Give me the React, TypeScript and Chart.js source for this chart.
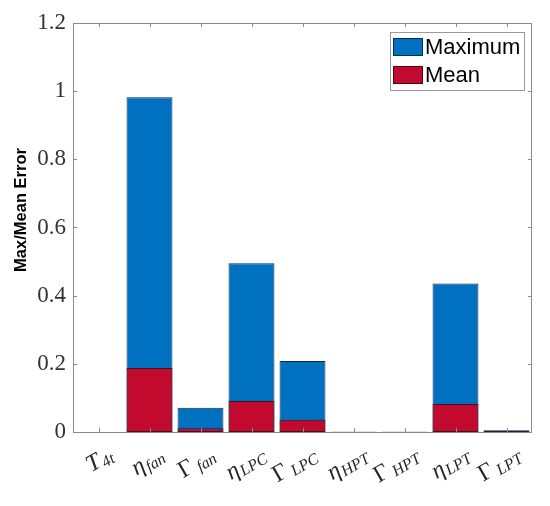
import React, { useEffect, useRef } from "react";
import { Chart, registerables } from "chart.js";

Chart.register(...registerables);

const categoryBase = ["T", "η", "Γ", "η", "Γ", "η", "Γ", "η", "Γ"];
const categorySub = ["4t", "fan", "fan", "LPC", "LPC", "HPT", "HPT", "LPT", "LPT"];
const categoryIds = ["T4t", "eta_fan", "Gamma_fan", "eta_LPC", "Gamma_LPC", "eta_HPT", "Gamma_HPT", "eta_LPT", "Gamma_LPT"];
const maxValues = [0, 0.982, 0.071, 0.495, 0.208, 0.001, 0.001, 0.436, 0.005];
const meanValues = [0, 0.188, 0.011, 0.091, 0.036, 0.0005, 0.0005, 0.082, 0.002];
const seriesNames = ["Maximum", "Mean"];
const seriesColors = ["#0070C0", "#C20A2F"];
const yMin = 0;
const yMax = 1.2;
const yStep = 0.2;

const framePlugin = {
  id: "framePlugin",
  afterDatasetsDraw(chart: any) {
    const { ctx, chartArea: a, scales } = chart;
    const xs = scales.x;
    const ys = scales.y;
    ctx.save();
    ctx.strokeStyle = "#8a8a8a";
    ctx.lineWidth = 1;
    ctx.strokeRect(a.left + 0.5, a.top + 0.5, a.right - a.left - 1, a.bottom - a.top);
    ctx.beginPath();
    const tl = 4;
    for (let i = 0; i < categoryIds.length; i++) {
      const x = Math.round(xs.getPixelForValue(i)) + 0.5;
      ctx.moveTo(x, a.bottom);
      ctx.lineTo(x, a.bottom - tl);
      ctx.moveTo(x, a.top);
      ctx.lineTo(x, a.top + tl);
    }
    for (let v = yMin; v <= yMax + 1e-9; v += yStep) {
      const y = Math.round(ys.getPixelForValue(v)) + 0.5;
      ctx.moveTo(a.left, y);
      ctx.lineTo(a.left + tl, y);
      ctx.moveTo(a.right, y);
      ctx.lineTo(a.right - tl, y);
    }
    ctx.stroke();
    ctx.restore();
  },
  afterDraw(chart: any) {
    const { ctx, chartArea: a, scales } = chart;
    const xs = scales.x;
    ctx.save();
    // x labels
    ctx.fillStyle = "#262626";
    ctx.textBaseline = "alphabetic";
    ctx.textAlign = "left";
    const baseFont = "italic 24px 'Liberation Serif'";
    const gammaFont = "24px 'Liberation Serif'";
    const subFont = "italic 16px 'Liberation Serif'";
    for (let i = 0; i < categoryIds.length; i++) {
      const x = xs.getPixelForValue(i) + 16;
      const y = a.bottom + 27;
      const bf = categoryBase[i] === "Γ" ? gammaFont : baseFont;
      ctx.font = bf;
      const bw = ctx.measureText(categoryBase[i]).width;
      ctx.font = subFont;
      const sw = ctx.measureText(categorySub[i]).width;
      const gap = categoryBase[i] === "Γ" ? 4 : 1;
      const total = bw + gap + sw;
      ctx.save();
      ctx.translate(x, y);
      ctx.rotate(-Math.PI / 6);
      ctx.font = bf;
      ctx.fillText(categoryBase[i], -total, 0);
      ctx.font = subFont;
      ctx.fillText(categorySub[i], -total + bw + gap, 3);
      ctx.restore();
    }
    // y title
    ctx.save();
    ctx.translate(21, 210);
    ctx.rotate(-Math.PI / 2);
    ctx.font = "bold 16.5px 'Liberation Sans'";
    ctx.fillStyle = "#000";
    ctx.textAlign = "center";
    ctx.textBaseline = "middle";
    ctx.fillText("Max/Mean Error", 0, 0);
    ctx.restore();
    // legend
    const lx = 390, ly = 32, lw = 134, lh = 58;
    ctx.fillStyle = "#fff";
    ctx.fillRect(lx, ly, lw, lh);
    ctx.strokeStyle = "#9a9a9a";
    ctx.lineWidth = 1;
    ctx.strokeRect(lx + 0.5, ly + 0.5, lw, lh);
    const ds = chart.data.datasets;
    ctx.font = "22px 'Liberation Sans'";
    ctx.textAlign = "left";
    ctx.textBaseline = "middle";
    for (let k = 0; k < ds.length; k++) {
      const sy = ly + 6 + k * 28;
      ctx.fillStyle = ds[k].backgroundColor;
      ctx.fillRect(lx + 3, sy, 30, 18);
      ctx.strokeStyle = "rgba(0,0,0,0.6)";
      ctx.strokeRect(lx + 3.5, sy + 0.5, 29, 17);
      ctx.fillStyle = "#000";
      ctx.fillText(ds[k].label, lx + 35, sy + 10);
    }
    ctx.restore();
  },
};

export default function App() {
  const ref = useRef<HTMLCanvasElement | null>(null);
  useEffect(() => {
    if (!ref.current) return;
    const chart = new Chart(ref.current, {
      type: "bar",
      data: {
        labels: categoryIds,
        datasets: [
          {
            label: seriesNames[0],
            data: maxValues,
            backgroundColor: seriesColors[0],
            borderColor: "#0d2a4a",
            borderWidth: 1,
            borderSkipped: false,
            order: 1,
            categoryPercentage: 0.9,
            barPercentage: 1,
          },
          {
            label: seriesNames[1],
            data: meanValues,
            backgroundColor: seriesColors[1],
            borderColor: "#4a0d1c",
            borderWidth: 1,
            borderSkipped: false,
            order: 0,
            categoryPercentage: 0.9,
            barPercentage: 1,
          },
        ],
      },
      options: {
        animation: false,
        responsive: false,
        maintainAspectRatio: false,
        layout: { padding: { left: 8, top: 23, right: 18, bottom: 0 } },
        plugins: { legend: { display: false }, tooltip: { enabled: false } },
        scales: {
          x: {
            stacked: true,
            grid: { display: false },
            border: { display: false },
            ticks: { display: false },
            afterFit: (s: any) => {
              s.height = 74;
            },
          },
          y: {
            stacked: false,
            min: yMin,
            max: yMax,
            grid: { display: false, drawTicks: false },
            border: { display: false },
            ticks: {
              stepSize: yStep,
              padding: 7,
              color: "#333",
              font: { family: "'Liberation Serif'", size: 23 },
              callback: (v: any) => String(Number(Number(v).toFixed(1))),
            },
            afterFit: (s: any) => {
              s.width = 65;
            },
          },
        },
      },
      plugins: [framePlugin],
    });
    return () => chart.destroy();
  }, []);
  return (
    <div style={{ position: "fixed", left: 0, top: 0, width: 550, height: 506, background: "#fff" }}>
      <canvas ref={ref} width={550} height={506} style={{ width: 550, height: 506 }} />
    </div>
  );
}
